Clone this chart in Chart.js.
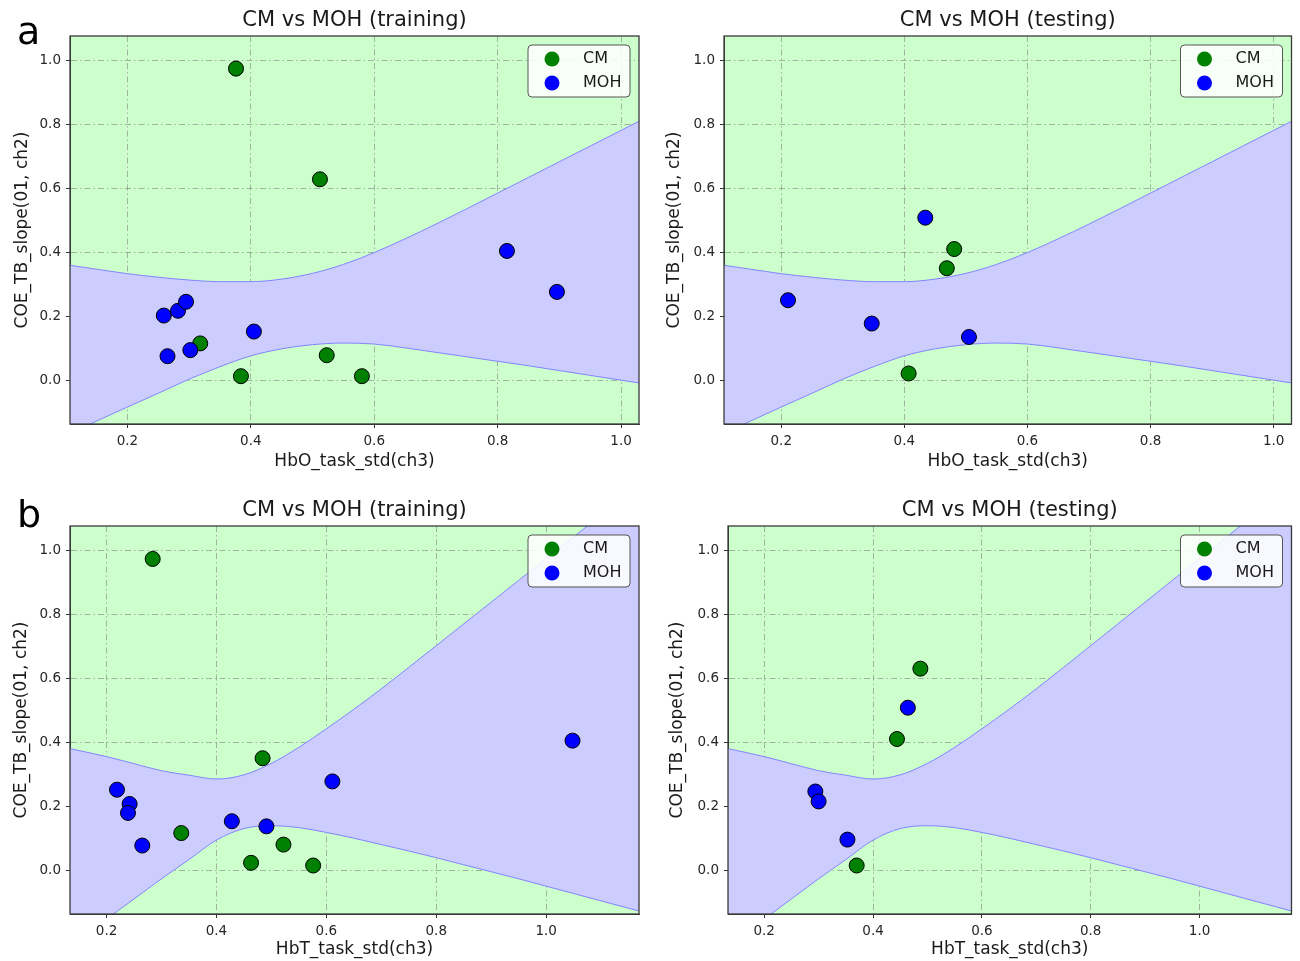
<!DOCTYPE html>
<html>
<head>
<meta charset="utf-8">
<title>CM vs MOH</title>
<script src="https://cdn.jsdelivr.net/npm/chart.js@4.4.1/dist/chart.umd.min.js"></script>
<style>
  body { margin: 0; background: #fff; }
  #page { position: relative; width: 1300px; height: 961px; font-family: "DejaVu Sans", sans-serif; }
  canvas { position: absolute; }
  .tag { position: absolute; font-size: 38px; line-height: 1; color: #000; }
</style>
</head>
<body>
<div id="page">
  <canvas id="aTrain" width="650" height="480" style="left:0px;top:0px"></canvas>
  <canvas id="aTest" width="650" height="480" style="left:650px;top:0px"></canvas>
  <canvas id="bTrain" width="650" height="481" style="left:0px;top:480px"></canvas>
  <canvas id="bTest" width="650" height="481" style="left:650px;top:480px"></canvas>
  <div class="tag" style="left:17px;top:12px">a</div>
  <div class="tag" style="left:17px;top:495px">b</div>
</div>
<script>
const FONT = "DejaVu Sans";
Chart.defaults.font.family = FONT;

// tick labels
const xTicks = [0.2, 0.4, 0.6, 0.8, 1.0];
const yTicks = [0.0, 0.2, 0.4, 0.6, 0.8, 1.0];

// decision boundary, row a (HbO)
const boundaryXA = [0.1, 0.15, 0.2, 0.25, 0.3, 0.35, 0.4, 0.45, 0.5, 0.55, 0.6, 0.65, 0.7, 0.75, 0.8, 0.85, 0.9, 0.95, 1.0, 1.05];
const upperA = [0.361, 0.347, 0.333, 0.322, 0.313, 0.308, 0.308, 0.316, 0.334, 0.362, 0.399, 0.442, 0.488, 0.536, 0.585, 0.634, 0.683, 0.732, 0.781, 0.83];
const lowerA = [-0.172, -0.128, -0.084, -0.041, 0.003, 0.042, 0.076, 0.098, 0.111, 0.116, 0.113, 0.101, 0.087, 0.073, 0.059, 0.045, 0.03, 0.015, 0.0, -0.015];

// decision boundary, row b (HbT)
const boundaryXB = [0.1, 0.15, 0.2, 0.25, 0.3, 0.35, 0.4, 0.45, 0.5, 0.55, 0.6, 0.65, 0.7, 0.75, 0.8, 0.85, 0.9, 0.95, 1.0, 1.05, 1.1, 1.15, 1.2];
const upperB = [0.392, 0.374, 0.355, 0.333, 0.311, 0.297, 0.285, 0.298, 0.334, 0.384, 0.442, 0.503, 0.567, 0.634, 0.702, 0.77, 0.838, 0.906, 0.974, 1.042, 1.11, 1.178, 1.246];
const lowerB = [-0.28, -0.216, -0.153, -0.09, -0.027, 0.033, 0.094, 0.13, 0.139, 0.133, 0.118, 0.1, 0.08, 0.06, 0.039, 0.017, -0.005, -0.027, -0.05, -0.073, -0.096, -0.119, -0.142];

// a: training
const cmTrainAX = [0.376, 0.512, 0.318, 0.384, 0.523, 0.580];
const cmTrainAY = [0.974, 0.628, 0.115, 0.0125, 0.078, 0.0125];
const mohTrainAX = [0.815, 0.896, 0.259, 0.282, 0.295, 0.405, 0.265, 0.302];
const mohTrainAY = [0.404, 0.276, 0.202, 0.217, 0.245, 0.152, 0.075, 0.094];
// a: testing
const cmTestAX = [0.481, 0.469, 0.407];
const cmTestAY = [0.410, 0.350, 0.021];
const mohTestAX = [0.434, 0.211, 0.347, 0.505];
const mohTestAY = [0.508, 0.250, 0.177, 0.135];
// b: training
const cmTrainBX = [0.284, 0.484, 0.336, 0.463, 0.522, 0.576];
const cmTrainBY = [0.973, 0.350, 0.116, 0.023, 0.080, 0.0146];
const mohTrainBX = [1.048, 0.611, 0.219, 0.242, 0.239, 0.265, 0.428, 0.491];
const mohTrainBY = [0.405, 0.2775, 0.2516, 0.207, 0.179, 0.077, 0.153, 0.137];
// b: testing
const cmTestBX = [0.487, 0.444, 0.370];
const cmTestBY = [0.630, 0.410, 0.0146];
const mohTestBX = [0.464, 0.294, 0.300, 0.353];
const mohTestBY = [0.508, 0.246, 0.215, 0.0956];

const pts = (xs, ys) => xs.map((x, i) => ({ x: x, y: ys[i] }));

const bgPlugin = {
  id: "bg",
  beforeDraw(chart) {
    const { ctx, chartArea: a } = chart;
    ctx.save();
    ctx.fillStyle = "#ccffcc";
    ctx.fillRect(a.left, a.top, a.right - a.left, a.bottom - a.top);
    ctx.restore();
  }
};

const framePlugin = {
  id: "frame",
  afterDraw(chart) {
    const { ctx, chartArea: a } = chart;
    ctx.save();
    ctx.strokeStyle = "#3a3a3a";
    ctx.lineWidth = 1.3;
    ctx.strokeRect(a.left, a.top, a.right - a.left, a.bottom - a.top);
    ctx.restore();
  }
};

// legend box inside the top right corner of the plot
const boxLegend = {
  id: "boxLegend",
  afterDraw(chart) {
    const { ctx, chartArea: a } = chart;
    const items = chart.data.datasets.filter((d) => d.showLine === false);
    const w = 102, h = 52;
    const left = a.right - 9 - w, top = a.top + 9;
    ctx.save();
    ctx.beginPath();
    ctx.roundRect(left, top, w, h, 4);
    ctx.fillStyle = "rgba(255,255,255,0.85)";
    ctx.fill();
    ctx.strokeStyle = "#555";
    ctx.lineWidth = 1;
    ctx.stroke();
    ctx.font = "16px " + FONT;
    ctx.textBaseline = "middle";
    items.forEach((d, i) => {
      const cy = top + 14 + i * 24;
      ctx.beginPath();
      ctx.arc(left + 24, cy, 7.5, 0, Math.PI * 2);
      ctx.fillStyle = d.pointBackgroundColor;
      ctx.fill();
      ctx.fillStyle = "#1a1a1a";
      ctx.fillText(d.label, left + 55, cy);
    });
    ctx.restore();
  }
};

function axis(min, max, tickValues, extra) {
  return Object.assign({
    type: "linear",
    min: min,
    max: max,
    z: 1,
    afterBuildTicks: (s) => { s.ticks = tickValues.map((v) => ({ value: v })); },
    ticks: {
      callback: (v) => Number(v).toFixed(1),
      color: "#262626",
      font: { size: 13.5 },
      padding: 5
    },
    grid: {
      color: "rgba(120,120,120,0.55)",
      lineWidth: 1,
      tickLength: 4,
      tickColor: "#333",
      tickWidth: 1
    },
    border: { display: true, color: "#3a3a3a", width: 1, dash: [6, 3, 1.5, 3] }
  }, extra);
}

function panel(id, o) {
  new Chart(document.getElementById(id), {
    type: "line",
    data: {
      datasets: [
        {
          label: "CM", data: pts(o.cmX, o.cmY), showLine: false, order: 2,
          pointRadius: 7.5, pointBackgroundColor: "green", pointBorderColor: "#000", pointBorderWidth: 1
        },
        {
          label: "MOH", data: pts(o.mohX, o.mohY), showLine: false, order: 1,
          pointRadius: 7.5, pointBackgroundColor: "blue", pointBorderColor: "#000", pointBorderWidth: 1
        },
        {
          label: "upper", data: pts(o.bx, o.up), order: 4, pointRadius: 0,
          borderColor: "#8484ff", borderWidth: 1, cubicInterpolationMode: "monotone",
          fill: "+1", backgroundColor: "#ccccff"
        },
        {
          label: "lower", data: pts(o.bx, o.lo), order: 3, pointRadius: 0,
          borderColor: "#8484ff", borderWidth: 1, cubicInterpolationMode: "monotone", fill: false
        }
      ]
    },
    options: {
      responsive: false,
      animation: false,
      events: [],
      layout: { padding: { left: 0, right: o.padRight, top: 0, bottom: 0 } },
      plugins: {
        legend: { display: false },
        tooltip: { enabled: false },
        title: {
          display: true, text: o.title, fullSize: false, color: "#1a1a1a",
          font: { size: 21, weight: "normal", lineHeight: 1.2 },
          padding: o.titlePad
        }
      },
      scales: {
        x: axis(o.xMin, o.xMax, xTicks, {
          afterFit: (s) => { s.height = o.xHeight; },
          title: {
            display: true, text: o.xLabel, color: "#1a1a1a",
            font: { size: 17, lineHeight: 1.2 }, padding: { top: 0, bottom: o.xTitlePad }
          }
        }),
        y: axis(-0.137, 1.076, yTicks, {
          afterFit: (s) => { s.width = o.yWidth; },
          title: {
            display: true, text: "COE_TB_slope(01, ch2)", color: "#1a1a1a",
            font: { size: 17, lineHeight: 1.2 }, padding: { top: o.yTitlePad, bottom: 0 }
          }
        })
      }
    },
    plugins: [bgPlugin, framePlugin, boxLegend]
  });
}

const rowA = { bx: boundaryXA, up: upperA, lo: lowerA, xMin: 0.107, xMax: 1.029, xLabel: "HbO_task_std(ch3)",
  titlePad: { top: 8, bottom: 2.8 }, xHeight: 56, xTitlePad: 8 };
const rowB = { bx: boundaryXB, up: upperB, lo: lowerB, xMin: 0.1335, xMax: 1.169, xLabel: "HbT_task_std(ch3)",
  titlePad: { top: 18, bottom: 2.8 }, xHeight: 47, xTitlePad: 1 };

panel("aTrain", Object.assign({}, rowA, { title: "CM vs MOH (training)", cmX: cmTrainAX, cmY: cmTrainAY, mohX: mohTrainAX, mohY: mohTrainAY, yWidth: 70, padRight: 11, yTitlePad: 12 }));
panel("aTest", Object.assign({}, rowA, { title: "CM vs MOH (testing)", cmX: cmTestAX, cmY: cmTestAY, mohX: mohTestAX, mohY: mohTestAY, yWidth: 74, padRight: 8, yTitlePad: 14 }));
panel("bTrain", Object.assign({}, rowB, { title: "CM vs MOH (training)", cmX: cmTrainBX, cmY: cmTrainBY, mohX: mohTrainBX, mohY: mohTrainBY, yWidth: 70, padRight: 11, yTitlePad: 11 }));
panel("bTest", Object.assign({}, rowB, { title: "CM vs MOH (testing)", cmX: cmTestBX, cmY: cmTestBY, mohX: mohTestBX, mohY: mohTestBY, yWidth: 78, padRight: 3, yTitlePad: 17 }));
</script>
</body>
</html>
